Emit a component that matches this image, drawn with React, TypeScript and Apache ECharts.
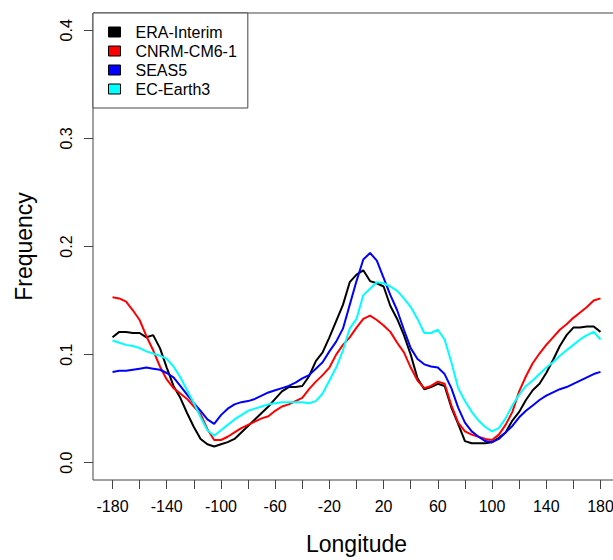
import { useEffect, useRef } from "react";
import * as echarts from "echarts";

const longitudes = [
  -180, -175, -170, -165, -160, -155, -150, -145, -140, -135, -130, -125, -120, -115, -110, -105,
  -100, -95, -90, -85, -80, -75, -70, -65, -60, -55, -50, -45, -40, -35, -30, -25, -20, -15, -10, -5,
  0, 5, 10, 15, 20, 25, 30, 35, 40, 45, 50, 55, 60, 65, 70, 75, 80, 85, 90, 95, 100, 105, 110, 115,
  120, 125, 130, 135, 140, 145, 150, 155, 160, 165, 170, 175, 180,
];

const eraInterim = [
  0.116, 0.121, 0.121, 0.12, 0.12, 0.116, 0.118, 0.106, 0.088, 0.071, 0.06, 0.046, 0.033, 0.022, 0.017, 0.015,
  0.017, 0.019, 0.022, 0.028, 0.034, 0.04, 0.046, 0.052, 0.059, 0.066, 0.07, 0.07, 0.071, 0.08, 0.094, 0.102, 0.116, 0.131, 0.146, 0.167,
  0.174, 0.178, 0.168, 0.166, 0.163, 0.145, 0.133, 0.118, 0.1, 0.078, 0.068, 0.07, 0.073, 0.071, 0.051, 0.036, 0.02, 0.018, 0.018, 0.018, 0.019, 0.023, 0.028, 0.039,
  0.047, 0.058, 0.067, 0.073, 0.083, 0.095, 0.108, 0.118, 0.125, 0.125, 0.126, 0.126, 0.121,
];

const cnrmCm61 = [
  0.153, 0.152, 0.149, 0.141, 0.132, 0.117, 0.104, 0.089, 0.077, 0.069, 0.064, 0.059, 0.052, 0.045, 0.031, 0.021,
  0.021, 0.024, 0.028, 0.032, 0.035, 0.038, 0.041, 0.043, 0.048, 0.052, 0.054, 0.057, 0.06, 0.068, 0.075, 0.081, 0.088, 0.1, 0.109, 0.116,
  0.125, 0.133, 0.136, 0.132, 0.127, 0.121, 0.111, 0.102, 0.088, 0.076, 0.069, 0.071, 0.075, 0.073, 0.053, 0.037, 0.029, 0.026, 0.024, 0.022, 0.021, 0.026, 0.035, 0.047,
  0.066, 0.08, 0.092, 0.101, 0.109, 0.116, 0.123, 0.128, 0.134, 0.139, 0.144, 0.15, 0.152,
];

const seas5 = [
  0.084, 0.085, 0.085, 0.086, 0.087, 0.088, 0.087, 0.086, 0.083, 0.079, 0.071, 0.063, 0.055, 0.048, 0.04, 0.036,
  0.044, 0.05, 0.054, 0.056, 0.057, 0.059, 0.062, 0.065, 0.067, 0.069, 0.071, 0.074, 0.078, 0.081, 0.087, 0.093, 0.103, 0.112, 0.124, 0.146,
  0.168, 0.188, 0.194, 0.187, 0.171, 0.155, 0.141, 0.123, 0.106, 0.096, 0.091, 0.089, 0.088, 0.082, 0.069, 0.051, 0.037, 0.029, 0.024, 0.02, 0.019, 0.022, 0.028, 0.034,
  0.042, 0.048, 0.053, 0.058, 0.062, 0.065, 0.068, 0.07, 0.073, 0.076, 0.079, 0.082, 0.084,
];

const ecEarth3 = [
  0.113, 0.111, 0.109, 0.108, 0.106, 0.103, 0.101, 0.099, 0.096, 0.089, 0.079, 0.067, 0.055, 0.042, 0.03, 0.025,
  0.03, 0.035, 0.04, 0.044, 0.048, 0.05, 0.052, 0.054, 0.055, 0.056, 0.056, 0.056, 0.056, 0.055, 0.057, 0.064, 0.076, 0.088, 0.104, 0.124,
  0.133, 0.155, 0.161, 0.167, 0.166, 0.163, 0.159, 0.152, 0.144, 0.133, 0.12, 0.12, 0.123, 0.114, 0.093, 0.069, 0.057, 0.047, 0.039, 0.033, 0.029, 0.032, 0.041, 0.053,
  0.063, 0.071, 0.076, 0.082, 0.088, 0.093, 0.099, 0.104, 0.109, 0.114, 0.118, 0.121, 0.114,
];

const seriesNames = ["ERA-Interim", "CNRM-CM6-1", "SEAS5", "EC-Earth3"];
const seriesColors = ["#000000", "#ff0000", "#0000ff", "#00ffff"];
const xTickValues = [-180, -160, -140, -120, -100, -80, -60, -40, -20, 0, 20, 40, 60, 80, 100, 120, 140, 160, 180];
const xLabelValues = [-180, -140, -100, -60, -20, 20, 60, 100, 140, 180];
const yTickValues = [0, 0.1, 0.2, 0.3, 0.4];

const FONT = "'Liberation Sans', Arial, Helvetica, sans-serif";

export default function App() {
  const ref = useRef<HTMLDivElement>(null);

  useEffect(() => {
    if (!ref.current) return;
    const chart = echarts.init(ref.current, null, { renderer: "svg" });
    const allValues = [eraInterim, cnrmCm61, seas5, ecEarth3];
    chart.setOption({
      animation: false,
      backgroundColor: "#ffffff",
      textStyle: { fontFamily: FONT },
      grid: {
        left: 93,
        top: 13,
        width: 527,
        height: 468,
        show: true,
        borderColor: "#444",
        borderWidth: 1,
        backgroundColor: "transparent",
        containLabel: false,
      },
      legend: {
        orient: "vertical",
        left: 93,
        top: 13,
        icon: "rect",
        itemWidth: 12,
        itemHeight: 10,
        itemGap: 3,
        padding: [11, 11, 11, 15],
        borderColor: "#444",
        borderWidth: 1,
        borderRadius: 0,
        backgroundColor: "#ffffff",
        selectedMode: false,
        itemStyle: { borderColor: "#000", borderWidth: 1 },
        textStyle: { fontSize: 16, color: "#000", fontFamily: FONT, padding: [0, 0, 0, 10] },
        data: seriesNames,
      },
      xAxis: {
        type: "value",
        min: -194.4,
        max: 194.4,
        name: "Longitude",
        nameLocation: "middle",
        nameGap: 52,
        nameTextStyle: { fontSize: 23, color: "#000", fontFamily: FONT },
        axisLine: { show: false, onZero: false },
        splitLine: { show: false },
        axisTick: {
          show: true,
          customValues: xTickValues,
          length: 9,
          lineStyle: { color: "#444", width: 1 },
        },
        axisLabel: {
          customValues: xLabelValues,
          fontSize: 16,
          color: "#000",
          margin: 18,
          fontFamily: FONT,
          formatter: (v: number) => String(v),
        },
      },
      yAxis: {
        type: "value",
        min: -0.016,
        max: 0.416,
        name: "Frequency",
        nameLocation: "middle",
        nameGap: 58,
        nameTextStyle: { fontSize: 23, color: "#000", fontFamily: FONT },
        axisLine: { show: false, onZero: false },
        splitLine: { show: false },
        axisTick: {
          show: true,
          customValues: yTickValues,
          length: 9,
          lineStyle: { color: "#444", width: 1 },
        },
        axisLabel: {
          customValues: yTickValues,
          rotate: 90,
          fontSize: 16,
          color: "#000",
          margin: 19,
          fontFamily: FONT,
          formatter: (v: number) => v.toFixed(1),
        },
      },
      series: seriesNames.map((name, k) => ({
        name,
        type: "line",
        showSymbol: false,
        symbol: "none",
        smooth: false,
        clip: true,
        color: seriesColors[k],
        lineStyle: { color: seriesColors[k], width: 2 },
        itemStyle: { color: seriesColors[k] },
        data: longitudes.map((lon, i) => [lon, allValues[k][i]]),
      })),
    });
    return () => chart.dispose();
  }, []);

  return (
    <div
      style={{ position: "absolute", left: 0, top: 0, width: 613, height: 560, overflow: "hidden", background: "#fff" }}
    >
      <div ref={ref} style={{ position: "absolute", left: 0, top: 0, width: 630, height: 560 }} />
    </div>
  );
}
